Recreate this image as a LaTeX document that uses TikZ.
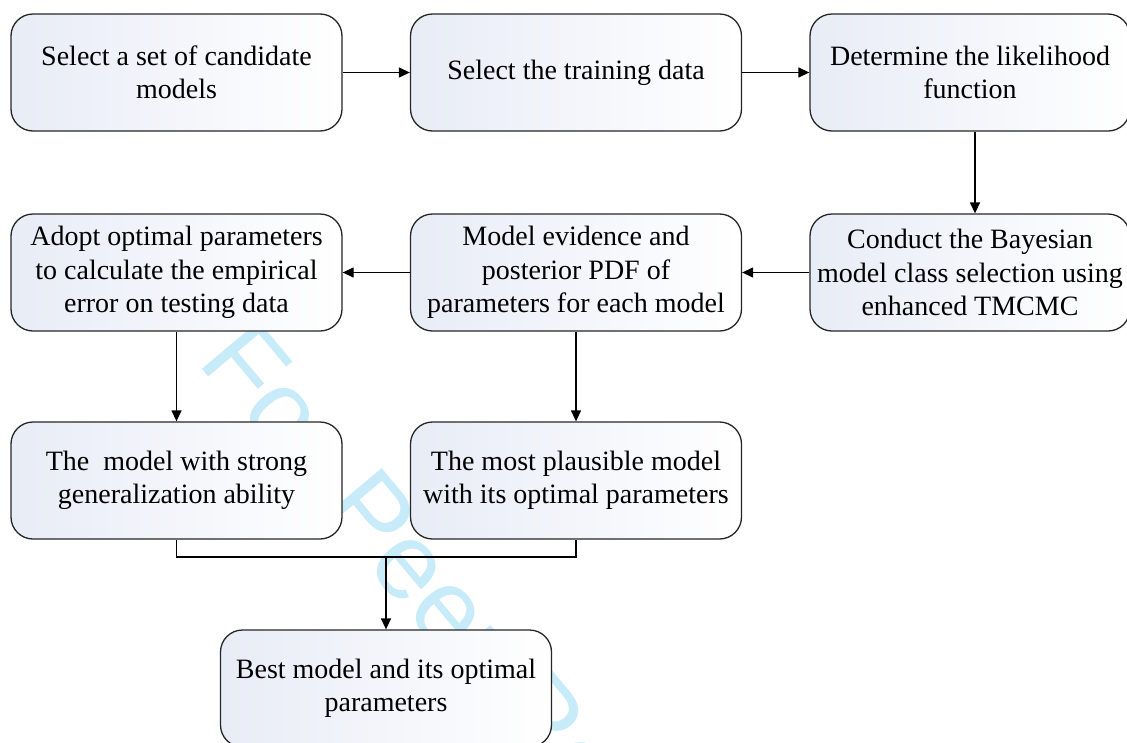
\documentclass[tikz,border=0pt]{standalone}
\usepackage{fontspec}
\setmainfont{Liberation Serif}
\newfontfamily\bodyfont{Liberation Serif}
\newfontfamily\wmfont{Liberation Sans}
\usetikzlibrary{arrows.meta}
\definecolor{boxc}{RGB}{232,236,246}
\definecolor{wmc}{RGB}{200,235,250}
\begin{document}
\begin{tikzpicture}[x=1pt,y=-1pt,
  box/.style={draw=black!85, line width=1.3pt, rounded corners=22pt,
    minimum width=331pt, minimum height=117pt, align=center, inner sep=0pt,
    left color=boxc, right color=white, text=black,
    font=\bodyfont\fontsize{28}{33.5}\selectfont},
  arr/.style={-{Triangle[length=11pt,width=10pt]}, line width=1.3pt},
  ln/.style={line width=1.3pt},
  wm/.style={font=\wmfont\fontsize{108}{108}\selectfont, text=wmc, rotate=-50,
    anchor=base west, inner sep=0pt}]
\useasboundingbox (0,0) rectangle (1127,742);
\clip (0,0) rectangle (1127,742);
\node[wm] (wmark) at (196,362) {For Peer Review};
\node[box] (b1) at (176.5,72.5) {Select a set of candidate\\models};
\node[box] (b2) at (576,72.5) {Select the training data};
\node[box, minimum width=320pt] (b3) at (970,72.5) {Determine the likelihood\\function};
\node[box, minimum width=320pt] (b4) at (970,272.5) {Conduct the Bayesian\\model class selection using\\enhanced TMCMC};
\node[box] (b5) at (576,272.5) {Model evidence and\\posterior PDF of\\parameters for each model};
\node[box] (b6) at (176.5,272.5) {Adopt optimal parameters\\to calculate the empirical\\error on testing data};
\node[box] (b7) at (176.5,480.5) {The~ model with strong\\generalization ability};
\node[box] (b8) at (576,480.5) {The most plausible model\\with its optimal parameters};
\node[box] (b9) at (386,688.5) {Best model and its optimal\\parameters};
\coordinate (m) at (386,557);
\draw[arr] (b1.east) -- (b2.west);
\draw[arr] (b2.east) -- (b3.west);
\draw[arr] ([xshift=5pt]b3.south) -- ([xshift=5pt]b4.north);
\draw[arr] (b4.west) -- (b5.east);
\draw[arr] (b5.west) -- (b6.east);
\draw[arr] (b6.south) -- (b7.north);
\draw[arr] (b5.south) -- (b8.north);
\draw[ln] (b7.south) -- (b7.south |- m) -- (b8.south |- m) -- (b8.south);
\draw[arr] (m) -- (b9.north);
\end{tikzpicture}
\end{document}
